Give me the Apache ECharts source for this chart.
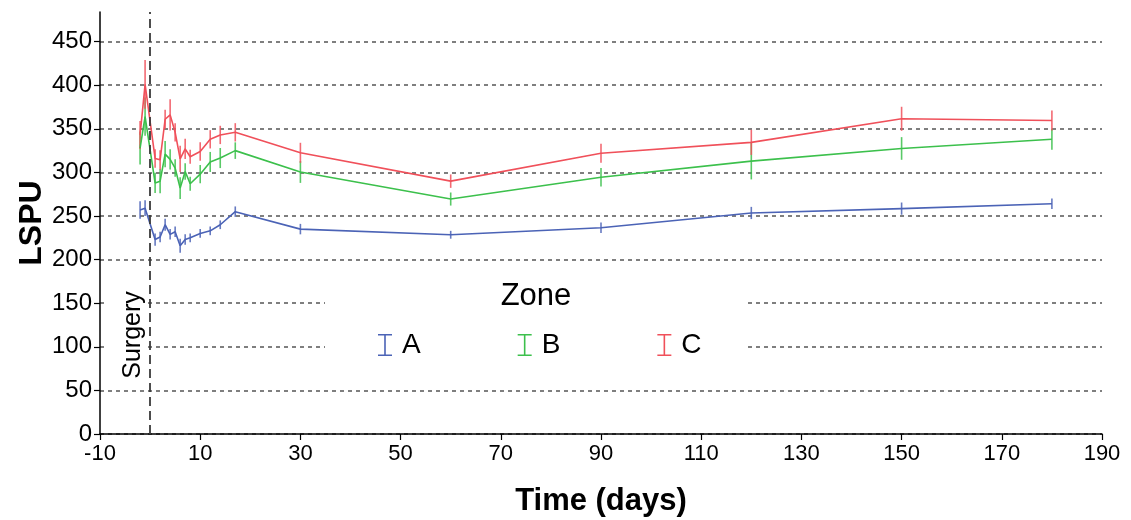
<!DOCTYPE html>
<html>
<head>
<meta charset="utf-8">
<script src="https://cdn.jsdelivr.net/npm/echarts@6/dist/echarts.min.js"></script>
<style>
html,body{margin:0;padding:0;background:#fff;}
#c{width:1131px;height:520px;}
</style>
</head>
<body>
<div id="c"></div>
<script>
// ---- data ----
const days = [-2, -1, 1, 2, 3, 4, 5, 6, 7, 8, 10, 12, 14, 17, 30, 60, 90, 120, 150, 180];
const zoneA = [257, 259, 223, 226, 240, 229, 232, 216, 223, 225, 230, 233, 240, 255, 235, 228.5, 236.5, 253.5, 258.5, 264];
const errA  = [10, 9, 7, 6, 7, 6, 6, 8, 6, 5, 5, 5, 5, 6, 6, 4.5, 6, 7, 7, 6];
const zoneB = [328, 364, 288, 290, 321, 315, 305, 282, 301, 287, 298, 312, 316.5, 325, 300.5, 269.5, 294.5, 313, 327.5, 338];
const errB  = [19, 22, 11.5, 14, 15, 11.5, 10, 12.5, 9.5, 8, 10.5, 11.5, 11.5, 9.5, 12.5, 7.5, 10.5, 21, 13, 12];
const zoneC = [343, 401, 316, 314.5, 361, 366, 346, 315.5, 327, 318, 324, 338, 343, 346, 322.5, 290, 322, 334.5, 361.5, 359.5];
const errC  = [16, 28, 10.5, 11, 11, 18, 10.5, 15, 11.5, 8, 10.5, 10.5, 10.5, 10.5, 11.5, 7.7, 11, 14.4, 13.8, 11.5];
const zoneNames = ['A', 'B', 'C'];
const yTicks = [0, 50, 100, 150, 200, 250, 300, 350, 400, 450];
const surgeryDay = 0;

const colors = ['#4b63b6', '#3cc04c', '#f0505a'];
const FONT = 'Liberation Sans, Arial, sans-serif';
const means = [zoneA, zoneB, zoneC];
const errs = [errA, errB, errC];

const iconI = 'path://M0,0h14v1.6h-6.2v18.8h6.2v1.6h-14v-1.6h6.2v-18.8h-6.2z';

const series = [];
zoneNames.forEach((name, k) => {
  series.push({
    name: name,
    type: 'line',
    data: days.map((d, i) => [d, means[k][i]]),
    showSymbol: false,
    symbol: 'none',
    lineStyle: {width: 1.6, color: colors[k]},
    itemStyle: {color: colors[k]},
    z: 3,
    animation: false,
    markLine: k === 0 ? {
      silent: true,
      symbol: ['none', 'none'],
      label: {show: false},
      lineStyle: {color: '#3a3a3a', type: [9, 5], width: 1.8},
      data: [{xAxis: surgeryDay}],
      animation: false
    } : undefined
  });
  series.push({
    name: name,
    type: 'custom',
    data: days.map((d, i) => [d, means[k][i] - errs[k][i], means[k][i] + errs[k][i]]),
    encode: {x: 0, y: [1, 2]},
    z: 3,
    animation: false,
    renderItem: function (params, api) {
      const lo = api.coord([api.value(0), api.value(1)]);
      const hi = api.coord([api.value(0), api.value(2)]);
      return {
        type: 'line',
        shape: {x1: lo[0], y1: lo[1], x2: hi[0], y2: hi[1]},
        style: {stroke: colors[k], lineWidth: 1.6, opacity: 0.85}
      };
    }
  });
});

const chart = echarts.init(document.getElementById('c'));
chart.setOption({
  backgroundColor: '#fff',
  animation: false,
  color: colors,
  grid: {left: 100, right: 29, top: 12, bottom: 86, containLabel: false, outerBoundsMode: 'none'},
  xAxis: {
    type: 'value',
    min: -10, max: 190, interval: 20,
    name: 'Time (days)',
    nameLocation: 'middle',
    nameGap: 52,
    nameMoveOverlap: false,
    nameTextStyle: {fontFamily: FONT, fontSize: 31, fontWeight: 'bold', color: '#000'},
    axisLine: {show: true, onZero: false, lineStyle: {color: '#000', width: 1.5}},
    axisTick: {show: true, length: 6, lineStyle: {color: '#000', width: 1.2}},
    axisLabel: {fontFamily: FONT, fontSize: 22, color: '#000', margin: 9},
    splitLine: {show: false}
  },
  yAxis: {
    type: 'value',
    min: 0, max: 484,
    name: 'LSPU',
    nameLocation: 'middle',
    nameRotate: 90,
    nameGap: 52,
    nameMoveOverlap: false,
    nameTextStyle: {fontFamily: FONT, fontSize: 32, fontWeight: 'bold', color: '#000'},
    axisLine: {show: true, onZero: false, lineStyle: {color: '#000', width: 1.5}},
    axisTick: {show: true, length: 6, customValues: yTicks, lineStyle: {color: '#000', width: 1.2}},
    axisLabel: {fontFamily: FONT, fontSize: 24, color: '#000', margin: 8, customValues: yTicks},
    splitLine: {show: true, lineStyle: {color: '#555', type: [4, 4], width: 1.5}}
  },
  legend: {
    left: 373,
    top: 326,
    orient: 'horizontal',
    itemWidth: 14,
    itemHeight: 22,
    itemGap: 97,
    data: zoneNames.map(n => ({name: n, icon: iconI})),
    textStyle: {fontFamily: FONT, fontSize: 28, color: '#000', padding: [0, 0, 0, 5]},
    selectedMode: false,
    z: 20
  },
  graphic: [
    {type: 'rect', z: 10, shape: {x: 325, y: 266, width: 423, height: 106}, style: {fill: '#fff'}},
    {type: 'rect', z: 10, shape: {x: 104, y: 283, width: 42, height: 102}, style: {fill: '#fff'}},
    {type: 'text', z: 11, x: 536, y: 296, style: {text: 'Zone', fontFamily: FONT, fontSize: 31, fill: '#000', align: 'center', verticalAlign: 'middle'}},
    {type: 'text', z: 11, x: 133, y: 335, rotation: Math.PI / 2, style: {text: 'Surgery', fontFamily: FONT, fontSize: 25, fill: '#000', align: 'center', verticalAlign: 'middle'}}
  ],
  series: series
});
</script>
</body>
</html>
